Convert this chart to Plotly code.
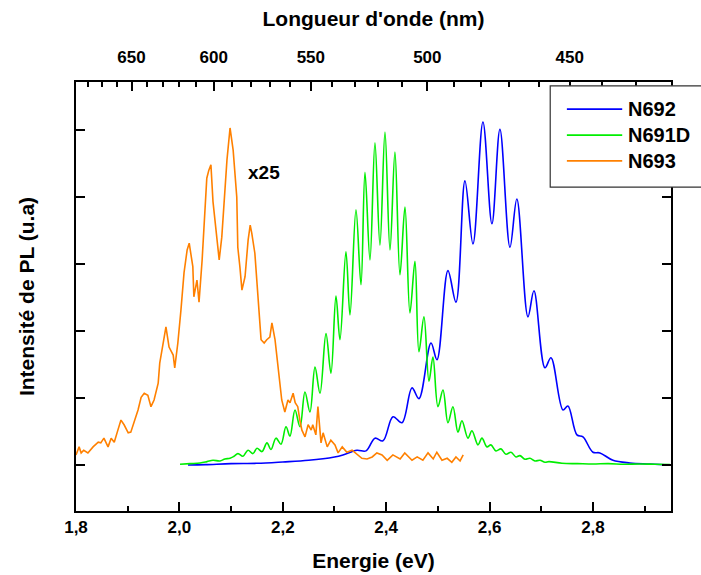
import plotly.graph_objects as go

# ---------------- data ----------------
# N692 (blue)
e_n692 = [2.0166, 2.05, 2.10, 2.15, 2.20, 2.25, 2.30, 2.3164, 2.3435, 2.361, 2.3783, 2.3938,
          2.4132, 2.4306, 2.4499, 2.4634, 2.4867, 2.4983, 2.5195, 2.535, 2.5524, 2.5679,
          2.5872, 2.6046, 2.6201, 2.6395, 2.6528, 2.6743, 2.6859, 2.7072, 2.7188, 2.742,
          2.7516, 2.769, 2.7807, 2.80, 2.8135, 2.8387, 2.8716, 2.910, 2.949]
i_n692 = [0.0, 0.005, 0.02, 0.025, 0.045, 0.07, 0.12, 0.15, 0.22, 0.21, 0.40, 0.36,
          0.72, 0.63, 1.15, 0.99, 1.82, 1.57, 2.90, 2.43, 4.24, 3.30,
          5.12, 3.60, 5.01, 3.25, 3.97, 2.21, 2.60, 1.45, 1.60, 0.82,
          0.88, 0.45, 0.42, 0.19, 0.18, 0.07, 0.03, 0.015, 0.0]

# N691D (green)
e_n691d = [2.0012, 2.0205, 2.04, 2.0534, 2.065, 2.0785, 2.0882, 2.0979, 2.1056,
           2.1133, 2.123, 2.1327, 2.1424, 2.1501, 2.1598, 2.1694, 2.1772, 2.1868, 2.1965,
           2.2062, 2.2139, 2.2236, 2.2333, 2.2429, 2.2526, 2.2623, 2.272, 2.2836, 2.2932,
           2.3029, 2.3106, 2.3222, 2.33, 2.3416, 2.3513, 2.359, 2.3687, 2.3783, 2.388,
           2.3977, 2.4074, 2.417, 2.4267, 2.4364, 2.446, 2.4557, 2.4634, 2.4731, 2.4828,
           2.4905, 2.5002, 2.5099, 2.5195, 2.5292, 2.5389, 2.5466, 2.5582, 2.5659, 2.5776,
           2.5853, 2.595, 2.6027, 2.6124, 2.6221, 2.6317, 2.6414, 2.6511, 2.6588, 2.6685,
           2.6781, 2.6878, 2.6975, 2.7072, 2.7149, 2.74, 2.77, 2.80, 2.83, 2.86, 2.89,
           2.92, 2.949]
i_n691d = [0.01, 0.02, 0.03, 0.05, 0.07, 0.06, 0.09, 0.10, 0.13,
           0.17, 0.13, 0.22, 0.17, 0.25, 0.20, 0.33, 0.23, 0.40, 0.31,
           0.57, 0.43, 0.82, 0.57, 1.09, 0.79, 1.46, 1.07, 1.96, 1.37,
           2.52, 1.87, 3.18, 2.24, 3.81, 2.69, 4.37, 3.06, 4.81, 3.28,
           4.97, 3.21, 4.67, 2.84, 3.85, 2.27, 3.04, 1.69, 2.21, 1.25,
           1.61, 0.87, 1.12, 0.63, 0.87, 0.49, 0.66, 0.40, 0.51, 0.30,
           0.40, 0.27, 0.30, 0.21, 0.24, 0.16, 0.19, 0.12, 0.14, 0.085,
           0.10, 0.06, 0.07, 0.04, 0.05, 0.025, 0.02, 0.015, 0.02, 0.01, 0.015,
           0.01, 0.005]

# N693 (orange, x25)
e_n693 = [1.800, 1.806, 1.810, 1.815, 1.823, 1.833, 1.843, 1.848, 1.854, 1.862, 1.868,
          1.874, 1.881, 1.887, 1.893, 1.901, 1.906, 1.912, 1.920, 1.926, 1.932, 1.939,
          1.945, 1.951, 1.959, 1.962, 1.968, 1.974, 1.980, 1.988, 1.991, 1.997, 2.003,
          2.009, 2.015, 2.019, 2.026, 2.028, 2.034, 2.038, 2.044, 2.048, 2.053, 2.057,
          2.061, 2.065, 2.071, 2.077, 2.082, 2.086, 2.092, 2.098, 2.104, 2.111, 2.113,
          2.117, 2.121, 2.127, 2.133, 2.137, 2.140, 2.146, 2.152, 2.158, 2.164, 2.169,
          2.175, 2.179, 2.185, 2.191, 2.195, 2.198, 2.204, 2.210, 2.214, 2.220, 2.224,
          2.229, 2.233, 2.237, 2.243, 2.249, 2.255, 2.258, 2.264, 2.268, 2.274, 2.278,
          2.286, 2.293, 2.301, 2.307, 2.315, 2.324, 2.334, 2.344, 2.353, 2.363, 2.373,
          2.382, 2.392, 2.402, 2.413, 2.427, 2.436, 2.450, 2.460, 2.471, 2.481, 2.491,
          2.498, 2.508, 2.518, 2.527, 2.535, 2.543, 2.549]
i_n693 = [0.15, 0.27, 0.18, 0.22, 0.18, 0.27, 0.34, 0.33, 0.40, 0.27, 0.40,
          0.34, 0.52, 0.67, 0.60, 0.48, 0.49, 0.63, 0.82, 1.01, 1.07, 1.04,
          0.87, 0.97, 1.22, 1.52, 1.82, 2.06, 1.76, 1.64, 1.45, 1.82, 2.31,
          2.87, 3.21, 3.31, 2.96, 2.51, 2.76, 2.43, 3.06, 3.55, 4.28, 4.40,
          4.48, 3.93, 3.46, 3.06, 3.40, 3.85, 4.55, 5.03, 4.70, 4.00, 3.25,
          2.96, 2.61, 2.81, 3.36, 3.58, 3.46, 3.16, 2.51, 1.87, 1.82, 1.87,
          1.91, 2.12, 1.87, 1.42, 1.12, 0.97, 0.79, 0.97, 0.93, 1.07, 0.93,
          0.87, 0.67, 0.52, 0.42, 0.60, 0.52, 0.60, 0.45, 0.87, 0.33, 0.48,
          0.27, 0.37, 0.30, 0.18, 0.27, 0.19, 0.22, 0.15, 0.10, 0.09, 0.12,
          0.18, 0.15, 0.07, 0.15, 0.09, 0.18, 0.07, 0.12, 0.07, 0.18, 0.09,
          0.19, 0.07, 0.10, 0.04, 0.12, 0.06, 0.15]

# top axis: wavelength ticks (nm)
wl_major = [650, 600, 550, 500, 450]
wl_minor = [680, 670, 660, 640, 630, 620, 610, 590, 580, 570, 560, 540, 530, 520, 510,
            490, 480, 470, 460, 440, 430]
HC = 1239.84  # eV.nm

y_ticks = [0, 1, 2, 3, 4, 5]

FONT = "Liberation Sans"
BLK = "#000000"

fig = go.Figure()
fig.add_trace(go.Scatter(x=e_n692, y=i_n692, mode="lines", name="N692",
                         line=dict(color="#0000ff", width=1.6, shape="spline", smoothing=1.0)))
fig.add_trace(go.Scatter(x=e_n691d, y=i_n691d, mode="lines", name="N691D",
                         line=dict(color="#00ee00", width=1.6, shape="spline", smoothing=1.0)))
fig.add_trace(go.Scatter(x=e_n693, y=i_n693, mode="lines", name="N693",
                         line=dict(color="#ff8000", width=1.6)))
# invisible trace to activate the top axis
fig.add_trace(go.Scatter(x=[1.8, 2.95], y=[None, None], xaxis="x2", showlegend=False,
                         hoverinfo="skip", mode="lines"))

XR = [1.8, 2.951]
YR = [-0.687, 5.716]

fig.update_layout(
    width=701, height=575,
    margin=dict(l=76, r=30, t=82, b=64),
    paper_bgcolor="white", plot_bgcolor="white",
    separators=", ",
    showlegend=False,
    font=dict(family=FONT, color=BLK, size=16),
    xaxis=dict(
        range=XR, tick0=1.8, dtick=0.2, tickformat=".1f", automargin=False,
        ticks="inside", ticklen=9, tickwidth=1.5, tickcolor=BLK,
        minor=dict(dtick=0.1, tick0=1.8, ticks="inside", ticklen=5, tickwidth=1.5, tickcolor=BLK),
        showline=True, linewidth=2, linecolor=BLK, mirror=False,
        showgrid=False, zeroline=False,
        tickfont=dict(family=FONT, size=17, color=BLK, weight="bold"),
        title=dict(text="<b>Energie (eV)</b>", font=dict(family=FONT, size=21), standoff=17),
    ),
    xaxis2=dict(
        overlaying="x", side="top", range=XR, automargin=False,
        tickmode="array", tickvals=[HC / w for w in wl_major], ticktext=[str(w) for w in wl_major],
        ticks="inside", ticklen=9, tickwidth=1.5, tickcolor=BLK, ticklabelstandoff=10,
        minor=dict(tickmode="array", tickvals=[HC / w for w in wl_minor], ticks="inside",
                   ticklen=5, tickwidth=1.5, tickcolor=BLK),
        showline=True, linewidth=2, linecolor=BLK,
        showgrid=False, zeroline=False,
        tickfont=dict(family=FONT, size=17, color=BLK, weight="bold"),
        title=dict(text="<b>Longueur d'onde (nm)</b>", font=dict(family=FONT, size=21), standoff=16),
    ),
    yaxis=dict(
        range=YR, tickmode="array", tickvals=y_ticks, showticklabels=False, automargin=False,
        ticks="inside", ticklen=9, tickwidth=1.5, tickcolor=BLK,
        showline=True, linewidth=2, linecolor=BLK, mirror="ticks",
        showgrid=False, zeroline=False,
        title=dict(text="<b>Intensité de PL (u.a)</b>", font=dict(family=FONT, size=21), standoff=34),
    ),
)

# "x25" label
fig.add_annotation(x=2.164, y=4.36, xref="x", yref="y", text="<b>x25</b>", showarrow=False,
                   font=dict(family=FONT, size=19, color=BLK))

# hand-drawn legend box (long sample lines like the original)
names = ["N692", "N691D", "N693"]
colors = ["#0000ff", "#00ee00", "#ff8000"]
row_y = [0.937, 0.876, 0.816]
fig.add_shape(type="rect", xref="paper", yref="paper", x0=0.797, x1=1.06, y0=0.755, y1=0.991,
              fillcolor="white", line=dict(color="#333333", width=1.2), layer="above")
for nm, col, yy in zip(names, colors, row_y):
    fig.add_shape(type="line", xref="paper", yref="paper", x0=0.825, x1=0.918, y0=yy, y1=yy,
                  line=dict(color=col, width=1.8), layer="above")
    fig.add_annotation(xref="paper", yref="paper", x=0.925, y=yy, xanchor="left", yanchor="middle",
                       text="<b>" + nm + "</b>", showarrow=False,
                       font=dict(family=FONT, size=20, color=BLK))

fig.write_html("out.html", config={"displayModeBar": False},
               post_script="document.body.style.margin='0';")
